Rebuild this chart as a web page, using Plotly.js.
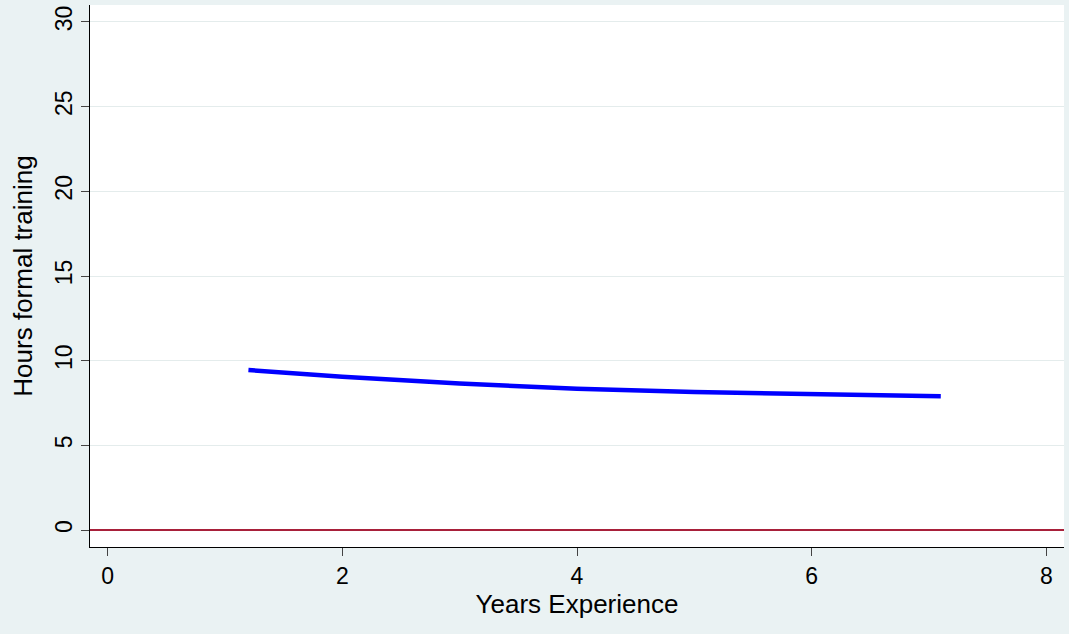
<!DOCTYPE html>
<html>
<head>
<script src="https://cdn.plot.ly/plotly-3.0.1.min.js"></script>
<style>body{margin:0;background:#eaf2f3}</style>
</head>
<body>
<div id="myChart" style="width:1069px;height:634px"></div>
<script>
var years = [1.2, 2, 3, 4, 5, 6, 7.1]
var hours = [9.45, 9.05, 8.65, 8.35, 8.15, 8.0, 7.9]
var zeroX = [-0.15, 8.15]
var zeroY = [0, 0]

var fit = {x: years, y: hours, type: 'scatter', mode: 'lines', line: {color: '#0000ff', width: 4.5}}
var zero = {x: zeroX, y: zeroY, type: 'scatter', mode: 'lines', line: {color: '#a8203a', width: 2}}

var layout = {
  showlegend: false,
  paper_bgcolor: '#eaf2f3',
  plot_bgcolor: '#ffffff',
  margin: {l: 90, r: 5, t: 5, b: 87},
  font: {family: 'Arial, Liberation Sans', size: 22, color: '#000'},
  xaxis: {title: {text: 'Years Experience', standoff: 2}, range: [-0.15, 8.15], tickvals: [0, 2, 4, 6, 8],
    tickfont: {size: 23},
    showgrid: false, zeroline: false, showline: true, linecolor: '#000', ticks: 'outside', ticklen: 8},
  yaxis: {title: {text: 'Hours formal training', standoff: 10}, range: [-1, 31], tickvals: [0, 5, 10, 15, 20, 25, 30],
    tickfont: {size: 23},
    tickangle: -90, gridcolor: '#e4ecec', zeroline: false, showline: true, linecolor: '#000', ticks: 'outside', ticklen: 8}
}
Plotly.newPlot('myChart', [zero, fit], layout, {displayModeBar: false})
</script>
</body>
</html>
